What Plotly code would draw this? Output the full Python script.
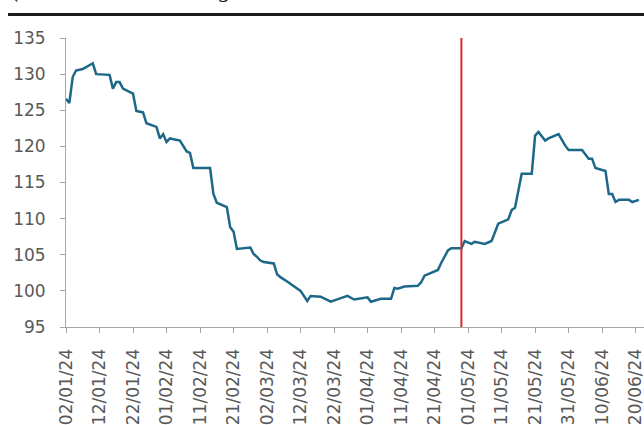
import plotly.graph_objects as go

dates = [
    "2024-01-02", "2024-01-03", "2024-01-04", "2024-01-05", "2024-01-07", "2024-01-08",
    "2024-01-10", "2024-01-11", "2024-01-15", "2024-01-16", "2024-01-17", "2024-01-18",
    "2024-01-19", "2024-01-22", "2024-01-23", "2024-01-25", "2024-01-26", "2024-01-29",
    "2024-01-30", "2024-01-31", "2024-02-01", "2024-02-02", "2024-02-05", "2024-02-07",
    "2024-02-08", "2024-02-09", "2024-02-14", "2024-02-15", "2024-02-16", "2024-02-19",
    "2024-02-20", "2024-02-21", "2024-02-22", "2024-02-26", "2024-02-27", "2024-02-28",
    "2024-02-29", "2024-03-01", "2024-03-04", "2024-03-05", "2024-03-06", "2024-03-08",
    "2024-03-12", "2024-03-14", "2024-03-15", "2024-03-18", "2024-03-21", "2024-03-24",
    "2024-03-26", "2024-03-28", "2024-04-01", "2024-04-02", "2024-04-05", "2024-04-08",
    "2024-04-09", "2024-04-10", "2024-04-12", "2024-04-16", "2024-04-17", "2024-04-18",
    "2024-04-19", "2024-04-22", "2024-04-23", "2024-04-25", "2024-04-26", "2024-04-29",
    "2024-04-30", "2024-05-02", "2024-05-03", "2024-05-06", "2024-05-08", "2024-05-10",
    "2024-05-13", "2024-05-14", "2024-05-15", "2024-05-17", "2024-05-20", "2024-05-21",
    "2024-05-22", "2024-05-24", "2024-05-25", "2024-05-28", "2024-05-30", "2024-05-31",
    "2024-06-04", "2024-06-06", "2024-06-07", "2024-06-08", "2024-06-11", "2024-06-12",
    "2024-06-13", "2024-06-14", "2024-06-15", "2024-06-18", "2024-06-19", "2024-06-20",
    "2024-06-21",
]
values = [
    126.6, 126.0, 129.6, 130.5, 130.7, 131.0,
    131.5, 130.0, 129.9, 128.0, 128.9, 128.9,
    128.0, 127.3, 124.9, 124.7, 123.2, 122.7,
    121.1, 121.7, 120.6, 121.1, 120.8, 119.3,
    119.1, 117.0, 117.0, 113.4, 112.2, 111.6,
    108.8, 108.2, 105.8, 106.0, 105.1, 104.7,
    104.2, 104.0, 103.8, 102.3, 101.9, 101.3,
    100.0, 98.6, 99.3, 99.2, 98.5, 99.0,
    99.3, 98.8, 99.1, 98.5, 98.9, 98.9,
    100.4, 100.3, 100.6, 100.7, 101.2, 102.1,
    102.3, 102.9, 103.9, 105.6, 105.9, 105.9,
    106.9, 106.5, 106.8, 106.5, 106.9, 109.3,
    109.9, 111.2, 111.5, 116.2, 116.2, 121.5,
    122.0, 120.8, 121.1, 121.7, 120.1, 119.5,
    119.5, 118.3, 118.3, 117.0, 116.6, 113.4,
    113.4, 112.3, 112.6, 112.6, 112.3, 112.5,
    112.6,
]

marker_date = "2024-04-29"
x_range = ["2024-01-02", "2024-06-22 12:00"]
y_range = [95, 135]
title_text = "(Index level in Sterling"

fig = go.Figure()
fig.add_trace(go.Scatter(
    x=dates, y=values, mode="lines",
    line=dict(color="#1d6888", width=2.5),
    showlegend=False, hoverinfo="skip",
))

fig.add_shape(type="line", xref="x", yref="y",
              x0=marker_date, x1=marker_date, y0=y_range[0], y1=y_range[1],
              line=dict(color="#d42a2f", width=2))

# thick rule under the (cropped) title
fig.add_shape(type="line", xref="paper", yref="paper",
              x0=-0.1003, x1=1.0, y0=1.0813, y1=1.0813,
              line=dict(color="#1a1a1a", width=3))

fig.add_annotation(xref="paper", yref="paper", x=-0.0969, y=1.118,
                   xanchor="left", yanchor="bottom", showarrow=False,
                   text=title_text,
                   font=dict(family="Liberation Serif", size=24, color="#1a1a1a", style="italic"))

axis_font = dict(family="DejaVu Sans", size=17, color="#595959")

fig.update_layout(
    width=644, height=425,
    margin=dict(l=66, r=0, t=38, b=98),
    paper_bgcolor="white", plot_bgcolor="white",
    xaxis=dict(
        type="date", range=x_range, automargin=False,
        tick0="2024-01-02", dtick=864000000,
        tickformat="%d/%m/%y", tickangle=-90,
        ticks="outside", ticklen=5, tickcolor="#a6a6a6",
        ticklabelstandoff=9, ticklabeloverflow="allow",
        showline=True, linecolor="#a6a6a6", linewidth=1,
        showgrid=False, zeroline=False, tickfont=axis_font,
    ),
    yaxis=dict(
        range=y_range, dtick=5, automargin=False,
        ticks="outside", ticklen=5, tickcolor="#a6a6a6",
        ticklabelstandoff=11,
        showline=True, linecolor="#a6a6a6", linewidth=1,
        showgrid=False, zeroline=False, tickfont=axis_font,
    ),
)

fig.write_html("out.html", config={"displayModeBar": False},
               post_script="document.body.style.margin='0';")
